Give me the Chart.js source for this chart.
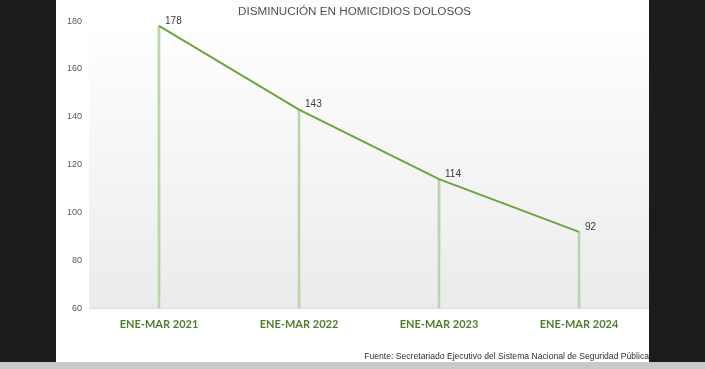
<!DOCTYPE html>
<html>
<head>
<meta charset="utf-8">
<script src="https://cdn.jsdelivr.net/npm/chart.js@4"></script>
<style>
  html, body { margin: 0; padding: 0; }
  body { width: 705px; height: 369px; background: #1b1c1e; position: relative; overflow: hidden; }
  #panel { position: absolute; left: 56px; top: 0; width: 593px; height: 362px; background: #ffffff; }
  #strip { position: absolute; left: 0; top: 362px; width: 705px; height: 7px; background: #c9c9c9; }
</style>
</head>
<body>
<div id="panel"><canvas id="homicidiosChart" width="593" height="362"></canvas></div>
<div id="strip"></div>
<script>
// datos del grafico
const periodos = ['ENE-MAR 2021', 'ENE-MAR 2022', 'ENE-MAR 2023', 'ENE-MAR 2024'];
const homicidios = [178, 143, 114, 92];
const yTicks = [60, 80, 100, 120, 140, 160, 180];

// fondo degradado del area de trazado
const plotBackground = {
    id: 'plotBackground',
    beforeDraw: function(chart) {
        const ctx = chart.ctx;
        const a = chart.chartArea;
        const grad = ctx.createLinearGradient(0, a.top, 0, a.bottom);
        grad.addColorStop(0, '#ffffff');
        grad.addColorStop(1, '#ebebeb');
        ctx.save();
        ctx.fillStyle = grad;
        ctx.fillRect(a.left, a.top, a.right - a.left, a.bottom - a.top);
        ctx.restore();
    }
};

// etiquetas de valores junto a cada punto
const valueLabels = {
    id: 'valueLabels',
    afterDatasetsDraw: function(chart) {
        const ctx = chart.ctx;
        const meta = chart.getDatasetMeta(1);
        ctx.save();
        ctx.font = '10px Arial, "Liberation Sans"';
        ctx.fillStyle = '#3a3a3a';
        ctx.textAlign = 'left';
        ctx.textBaseline = 'middle';
        meta.data.forEach(function(pt, i) {
            ctx.fillText(homicidios[i], pt.x + 6, pt.y - 5);
        });
        ctx.restore();
    }
};

const ctxHom = document.getElementById('homicidiosChart');

new Chart(ctxHom, {
    data: {
        labels: periodos,
        datasets: [{
            type: 'bar',
            data: homicidios,
            backgroundColor: '#bcd4a8',
            barThickness: 2,
            order: 2
        }, {
            type: 'line',
            data: homicidios,
            borderColor: '#6aa63a',
            borderWidth: 2,
            pointRadius: 0,
            tension: 0,
            order: 1
        }]
    },
    options: {
        responsive: false,
        animation: false,
        layout: {
            padding: { left: 4, right: 0, top: 0, bottom: 0 }
        },
        plugins: {
            legend: { display: false },
            tooltip: { enabled: false },
            title: {
                display: true,
                text: 'DISMINUCIÓN EN HOMICIDIOS DOLOSOS',
                color: '#505050',
                font: { family: 'Arial, "Liberation Sans"', size: 11.7, weight: 'normal' },
                padding: { top: 5, bottom: 2 }
            },
            subtitle: {
                display: true,
                position: 'bottom',
                align: 'end',
                text: 'Fuente: Secretariado Ejecutivo del Sistema Nacional de Seguridad Pública',
                color: '#303030',
                font: { family: 'Arial, "Liberation Sans"', size: 8.6 },
                padding: { top: 12, bottom: 0 }
            }
        },
        scales: {
            x: {
                offset: true,
                grid: { display: false, drawTicks: false },
                border: { display: true, color: '#dcdcdc', width: 1 },
                ticks: {
                    color: '#4f7f2b',
                    padding: 9,
                    font: { family: 'Lato, "Open Sans"', size: 11, weight: 'bold' }
                }
            },
            y: {
                min: 60,
                max: 180,
                afterBuildTicks: function(axis) {
                    axis.ticks = yTicks.map(function(v) { return { value: v }; });
                },
                grid: { display: false, drawTicks: false },
                border: { display: false },
                ticks: {
                    color: '#5a5a5a',
                    padding: 7,
                    font: { family: 'Arial, "Liberation Sans"', size: 9 }
                }
            }
        }
    },
    plugins: [plotBackground, valueLabels]
});
</script>
</body>
</html>
